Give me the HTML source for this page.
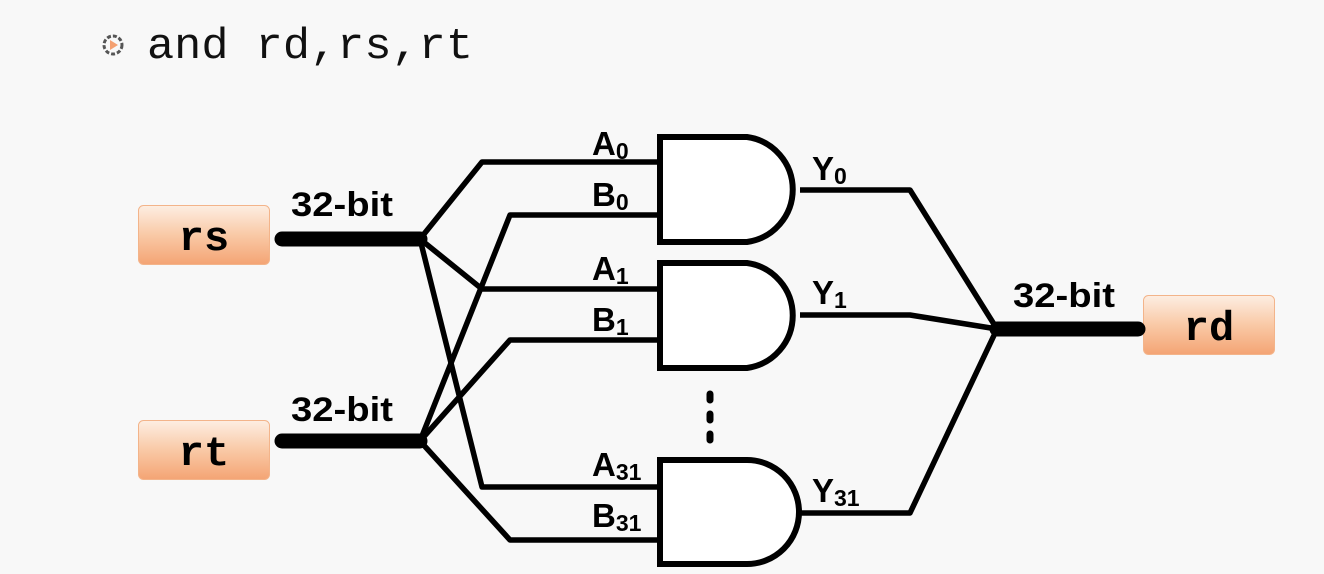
<!DOCTYPE html>
<html><head><style>
html,body{margin:0;padding:0;background:#f8f8f8;}
svg{display:block;}
.lbl{font-family:"Liberation Sans",Arial,sans-serif;font-weight:bold;fill:#000;}
.mono{font-family:"Liberation Mono","Courier New",monospace;}
</style></head><body>
<svg width="1324" height="574" viewBox="0 0 1324 574" xmlns="http://www.w3.org/2000/svg">
<defs>
<linearGradient id="og" x1="0" y1="0" x2="0" y2="1">
<stop offset="0" stop-color="#fdeee2"/><stop offset="0.5" stop-color="#f9c9a6"/><stop offset="1" stop-color="#f4a474"/>
</linearGradient>
</defs>
<rect width="1324" height="574" fill="#f8f8f8"/>
<!-- title -->
<circle cx="113" cy="45" r="9" fill="none" stroke="#555" stroke-width="3" stroke-dasharray="4 2"/>
<path d="M110 40 L118 45 L110 50 Z" fill="#f4a070"/>
<text x="147" y="58" class="mono" font-size="44" fill="#111" textLength="326" lengthAdjust="spacingAndGlyphs">and rd,rs,rt</text>

<!-- boxes -->
<rect x="138.5" y="205.5" width="131" height="59" rx="5" fill="url(#og)" stroke="#f3b48a"/>
<text x="204" y="250" class="mono" font-size="42" font-weight="bold" text-anchor="middle">rs</text>
<rect x="138.5" y="420.5" width="131" height="59" rx="5" fill="url(#og)" stroke="#f3b48a"/>
<text x="204" y="465" class="mono" font-size="42" font-weight="bold" text-anchor="middle">rt</text>
<rect x="1143.5" y="295.5" width="131" height="59" rx="5" fill="url(#og)" stroke="#f3b48a"/>
<text x="1209" y="340" class="mono" font-size="42" font-weight="bold" text-anchor="middle">rd</text>

<!-- buses -->
<g stroke="#000" stroke-linecap="round" fill="none">
<line x1="282" y1="239" x2="420" y2="239" stroke-width="15"/>
<line x1="282" y1="441" x2="420" y2="441" stroke-width="15"/>
<line x1="997" y1="329" x2="1138" y2="329" stroke-width="15"/>
</g>
<text x="291" y="216" class="lbl" font-size="34" textLength="102" lengthAdjust="spacingAndGlyphs">32-bit</text>
<text x="291" y="421" class="lbl" font-size="34" textLength="102" lengthAdjust="spacingAndGlyphs">32-bit</text>
<text x="1013" y="307" class="lbl" font-size="34" textLength="102" lengthAdjust="spacingAndGlyphs">32-bit</text>

<!-- wires -->
<g stroke="#000" stroke-width="5.5" fill="none" stroke-linejoin="round">
<polyline points="420,239 482,162 660,162"/>
<polyline points="420,239 482,289 660,289"/>
<polyline points="420,239 482,487 660,487"/>
<polyline points="420,441 510,215 660,215"/>
<polyline points="420,441 510,340 660,340"/>
<polyline points="420,441 510,540 660,540"/>
<polyline points="800,190 910,190 997,329"/>
<polyline points="800,315 910,315 997,329"/>
<polyline points="800,513 910,513 997,329"/>
</g>

<!-- gates -->
<g stroke="#000" stroke-width="6" fill="#fff">
<path d="M660,137 L747,137 A53,53 0 0 1 747,242 L660,242 Z"/>
<path d="M660,263 L747,263 A53,53 0 0 1 747,368 L660,368 Z"/>
<path d="M660,460 L747,460 A52,52 0 0 1 747,564 L660,564 Z"/>
</g>
<g stroke="#000" stroke-width="7" stroke-linecap="round">
<line x1="710" y1="394" x2="710" y2="400"/>
<line x1="710" y1="414" x2="710" y2="420"/>
<line x1="710" y1="434" x2="710" y2="440"/>
</g>

<!-- labels -->
<g class="lbl" font-size="33">
<text x="592" y="155">A<tspan font-size="23" dy="4">0</tspan></text>
<text x="592" y="206">B<tspan font-size="23" dy="4">0</tspan></text>
<text x="592" y="280">A<tspan font-size="23" dy="4">1</tspan></text>
<text x="592" y="331">B<tspan font-size="23" dy="4">1</tspan></text>
<text x="592" y="476">A<tspan font-size="23" dy="4">31</tspan></text>
<text x="592" y="527">B<tspan font-size="23" dy="4">31</tspan></text>
<text x="812" y="180">Y<tspan font-size="23" dy="4">0</tspan></text>
<text x="812" y="304">Y<tspan font-size="23" dy="4">1</tspan></text>
<text x="812" y="502">Y<tspan font-size="23" dy="4">31</tspan></text>
</g>
</svg>
</body></html>
